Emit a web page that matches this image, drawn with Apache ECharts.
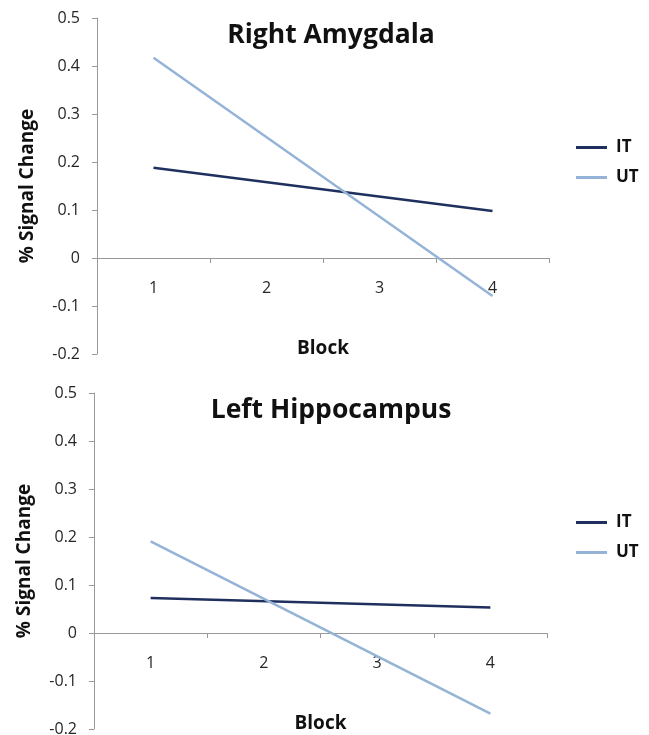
<!DOCTYPE html>
<html>
<head>
<meta charset="utf-8">
<script src="https://cdn.jsdelivr.net/npm/echarts@6/dist/echarts.min.js"></script>
<style>
  html, body { margin: 0; padding: 0; background: #fff; }
  #chart { width: 649px; height: 735px; }
</style>
</head>
<body>
<div id="chart"></div>
<script>
const blocks = ["1", "2", "3", "4"];
const titles = ["Right Amygdala", "Left Hippocampus"];
const seriesNames = ["IT", "UT"];
// lines are straight from block 1 to block 4, middle blocks not marked
const amygdalaIT = [0.188, null, null, 0.098];
const amygdalaUT = [0.417, null, null, -0.079];
const hippocampusIT = [0.073, null, null, 0.053];
const hippocampusUT = [0.191, null, null, -0.168];

const font = "'Open Sans', sans-serif";
const colors = ["#1f2f5e", "#95b3d7"];
const axisGray = "#999";
const textColor = "#262626";

const grids = [
  { left: 97, top: 18, width: 452, height: 336, outerBoundsMode: "none", containLabel: false },
  { left: 94, top: 393, width: 453, height: 336, outerBoundsMode: "none", containLabel: false },
];
const panelTops = [18, 393];
// x axis sits on the zero line: 0.2 of a 0.7 range above the grid bottom
const zeroOffset = -96;

const option = {
  animation: false,
  textStyle: { fontFamily: font },
  color: colors,
  title: titles.map((t, i) => ({
    text: t,
    left: 326,
    textAlign: "center",
    top: panelTops[i] - 1,
    textStyle: { fontFamily: font, fontSize: 26.5, fontWeight: "bold", color: "#111" },
  })),
  legend: [0, 1].map((i) => ({
    data: seriesNames,
    orient: "vertical",
    left: 571,
    top: panelTops[i] + 116,
    itemWidth: 31,
    itemHeight: 3,
    itemGap: 13,
    icon: "rect",
    textStyle: { fontFamily: font, fontSize: 17, fontWeight: "bold", color: "#111", padding: [0, 0, 0, 4] },
  })),
  grid: grids,
  xAxis: [0, 1].map((i) => ({
    type: "category",
    gridIndex: i,
    data: blocks,
    boundaryGap: true,
    position: "bottom",
    offset: zeroOffset,
    name: "Block",
    nameLocation: "middle",
    nameGap: 81,
    nameTextStyle: { fontFamily: font, fontSize: 19, fontWeight: "bold", color: "#111" },
    axisLine: { onZero: false, lineStyle: { color: axisGray, width: 1 } },
    axisTick: { show: true, length: 5, lineStyle: { color: axisGray } },
    axisLabel: { margin: 22, fontSize: 16, color: textColor, fontFamily: font },
    splitLine: { show: false },
  })),
  yAxis: [0, 1].map((i) => ({
    type: "value",
    gridIndex: i,
    min: -0.2,
    max: 0.5,
    interval: 0.1,
    name: "% Signal Change",
    nameLocation: "middle",
    nameGap: 60,
    nameTextStyle: { fontFamily: font, fontSize: 19, fontWeight: "bold", color: "#111" },
    axisLine: { show: true, lineStyle: { color: axisGray, width: 1 } },
    axisTick: { show: true, length: 5, lineStyle: { color: axisGray } },
    axisLabel: { margin: 17, fontSize: 16, color: textColor, fontFamily: font },
    splitLine: { show: false },
  })),
  series: [
    { name: "IT", type: "line", xAxisIndex: 0, yAxisIndex: 0, data: amygdalaIT },
    { name: "UT", type: "line", xAxisIndex: 0, yAxisIndex: 0, data: amygdalaUT },
    { name: "IT", type: "line", xAxisIndex: 1, yAxisIndex: 1, data: hippocampusIT },
    { name: "UT", type: "line", xAxisIndex: 1, yAxisIndex: 1, data: hippocampusUT },
  ].map((s, k) => ({
    ...s,
    symbol: "none",
    connectNulls: true,
    lineStyle: { width: 2.5, color: colors[k % 2] },
    itemStyle: { color: colors[k % 2] },
  })),
};

const chart = echarts.init(document.getElementById("chart"));
chart.setOption(option);
</script>
</body>
</html>
